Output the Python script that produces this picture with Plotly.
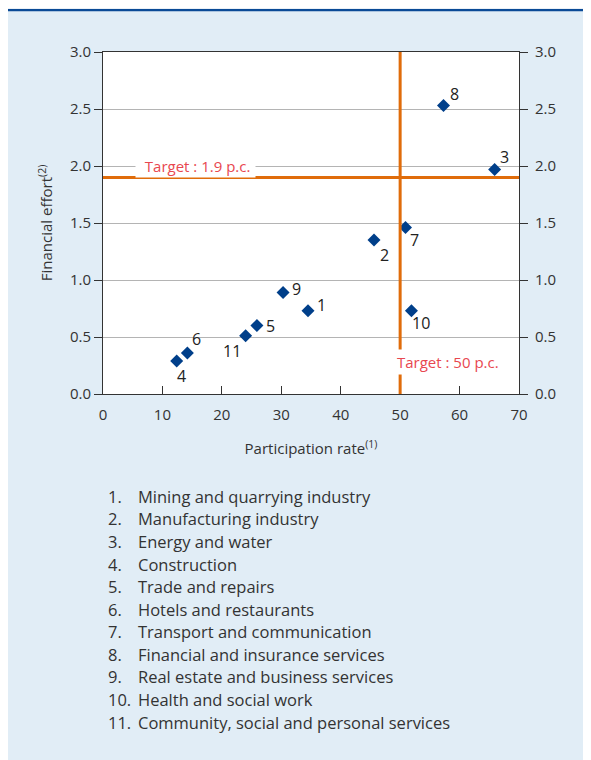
import plotly.graph_objects as go

# Data
sector_ids = ["1", "2", "3", "4", "5", "6", "7", "8", "9", "10", "11"]
participation = [34.5, 45.6, 65.9, 12.4, 25.9, 14.2, 50.9, 57.3, 30.3, 51.9, 24.0]
financial_effort = [0.73, 1.35, 1.97, 0.29, 0.60, 0.36, 1.46, 2.53, 0.89, 0.73, 0.51]
sector_names = [
    "Mining and quarrying industry",
    "Manufacturing industry",
    "Energy and water",
    "Construction",
    "Trade and repairs",
    "Hotels and restaurants",
    "Transport and communication",
    "Financial and insurance services",
    "Real estate and business services",
    "Health and social work",
    "Community, social and personal services",
]
target_participation = 50
target_effort = 1.9
x_ticks = [0, 10, 20, 30, 40, 50, 60, 70]
y_ticks = [0.0, 0.5, 1.0, 1.5, 2.0, 2.5, 3.0]

# label offsets (px) for point numbers
label_shift = {
    "1": (13, 6), "2": (11, -15), "3": (10, 12), "4": (5, -15), "5": (14, 0),
    "6": (9, 14), "7": (9, -12), "8": (11, 12), "9": (13, 4), "10": (10, -12),
    "11": (-14, -15),
}

FONT = "Open Sans"
TXT = "#333333"
BLUE = "#003f8a"
ORANGE = "#e06c0a"
RED = "#e8474f"
BG = "#e1edf6"

# geometry (px)
W, H = 583, 752
L, R, T, B = 95, 72, 44, 365.5
PW = W - L - R
PH = H - T - B


def px_x(p):
    return (p - L) / PW


def px_y(p):
    return (H - B - p) / PH


fig = go.Figure()
fig.add_trace(go.Scatter(
    x=participation, y=financial_effort, mode="markers",
    marker=dict(symbol="diamond", size=10, color=BLUE),
    hoverinfo="skip", showlegend=False,
))
fig.add_trace(go.Scatter(x=[0], y=[0], yaxis="y2", mode="markers",
                         marker=dict(opacity=0), showlegend=False, hoverinfo="skip"))

# top rule
fig.add_shape(type="line", xref="paper", yref="paper", x0=px_x(0), x1=px_x(W),
              y0=px_y(2), y1=px_y(2), line=dict(color="#0a4a96", width=2.5), layer="below")
fig.add_shape(type="rect", xref="paper", yref="paper", x0=px_x(0), x1=px_x(W),
              y0=px_y(0.7), y1=px_y(0), fillcolor="white", line_width=0, layer="below")

# target lines
fig.add_shape(type="line", xref="x", yref="paper", x0=target_participation, x1=target_participation,
              y0=0, y1=1, line=dict(color=ORANGE, width=3))
fig.add_shape(type="line", xref="paper", yref="y", x0=0, x1=1, y0=target_effort, y1=target_effort,
              line=dict(color=ORANGE, width=3))

annotations = []
for sid, xv, yv in zip(sector_ids, participation, financial_effort):
    dx, dy = label_shift[sid]
    annotations.append(dict(x=xv, y=yv, text=sid, showarrow=False, xshift=dx, yshift=dy,
                            font=dict(family=FONT, size=16, color="#222")))

annotations.append(dict(x=5.4, y=2.0, xanchor="left", yanchor="middle",
                        text="&nbsp;&nbsp;Target : 1.9 p.c.&nbsp;", showarrow=False, bgcolor="white",
                        borderpad=1, font=dict(family=FONT, size=15, color=RED)))
annotations.append(dict(x=48.9, y=0.28, xanchor="left", yanchor="middle",
                        text="Target : 50 p.c.", showarrow=False, bgcolor="white",
                        borderpad=2, font=dict(family=FONT, size=15, color=RED)))

# numbered list below the chart
for i, name in enumerate(sector_names):
    ypx = 489 + 22.6 * i
    annotations.append(dict(xref="paper", yref="paper", x=px_x(98), y=px_y(ypx),
                            xanchor="left", yanchor="middle", text=f"{sector_ids[i]}.",
                            showarrow=False, font=dict(family=FONT, size=16.5, color=TXT)))
    annotations.append(dict(xref="paper", yref="paper", x=px_x(128), y=px_y(ypx),
                            xanchor="left", yanchor="middle", text=name,
                            showarrow=False, font=dict(family=FONT, size=16.5, color=TXT)))

fig.update_layout(
    width=W, height=H,
    margin=dict(l=L, r=R, t=T, b=B),
    paper_bgcolor=BG, plot_bgcolor="white",
    font=dict(family=FONT, color=TXT),
    annotations=annotations,
    xaxis=dict(range=[0, 70], tickvals=x_ticks, ticks="inside", ticklen=8, tickcolor="#333",
               showline=True, linecolor="#333", linewidth=1, mirror=True, showgrid=False,
               zeroline=False, tickfont=dict(size=15, color=TXT), ticklabelstandoff=7,
               title=dict(text="Participation rate<sup>(1)</sup>", font=dict(size=15, color=TXT),
                          standoff=20)),
    yaxis=dict(range=[0, 3], tickvals=y_ticks, tickformat=".1f", ticks="outside", ticklen=8,
               tickcolor="#333", showline=True, linecolor="#333", linewidth=1,
               showgrid=True, gridcolor="#b4b4b4", gridwidth=1, zeroline=False,
               tickfont=dict(size=15, color=TXT),
               title=dict(text="Financial effort<sup>(2)</sup>", font=dict(size=15, color=TXT),
                          standoff=13)),
    yaxis2=dict(range=[0, 3], tickvals=y_ticks, tickformat=".1f", overlaying="y", side="right",
                ticks="outside", ticklen=8, tickcolor="#333", showline=True, linecolor="#333",
                linewidth=1, showgrid=False, zeroline=False, tickfont=dict(size=15, color=TXT),
                ticklabelstandoff=4),
)

fig.write_html("out.html")
